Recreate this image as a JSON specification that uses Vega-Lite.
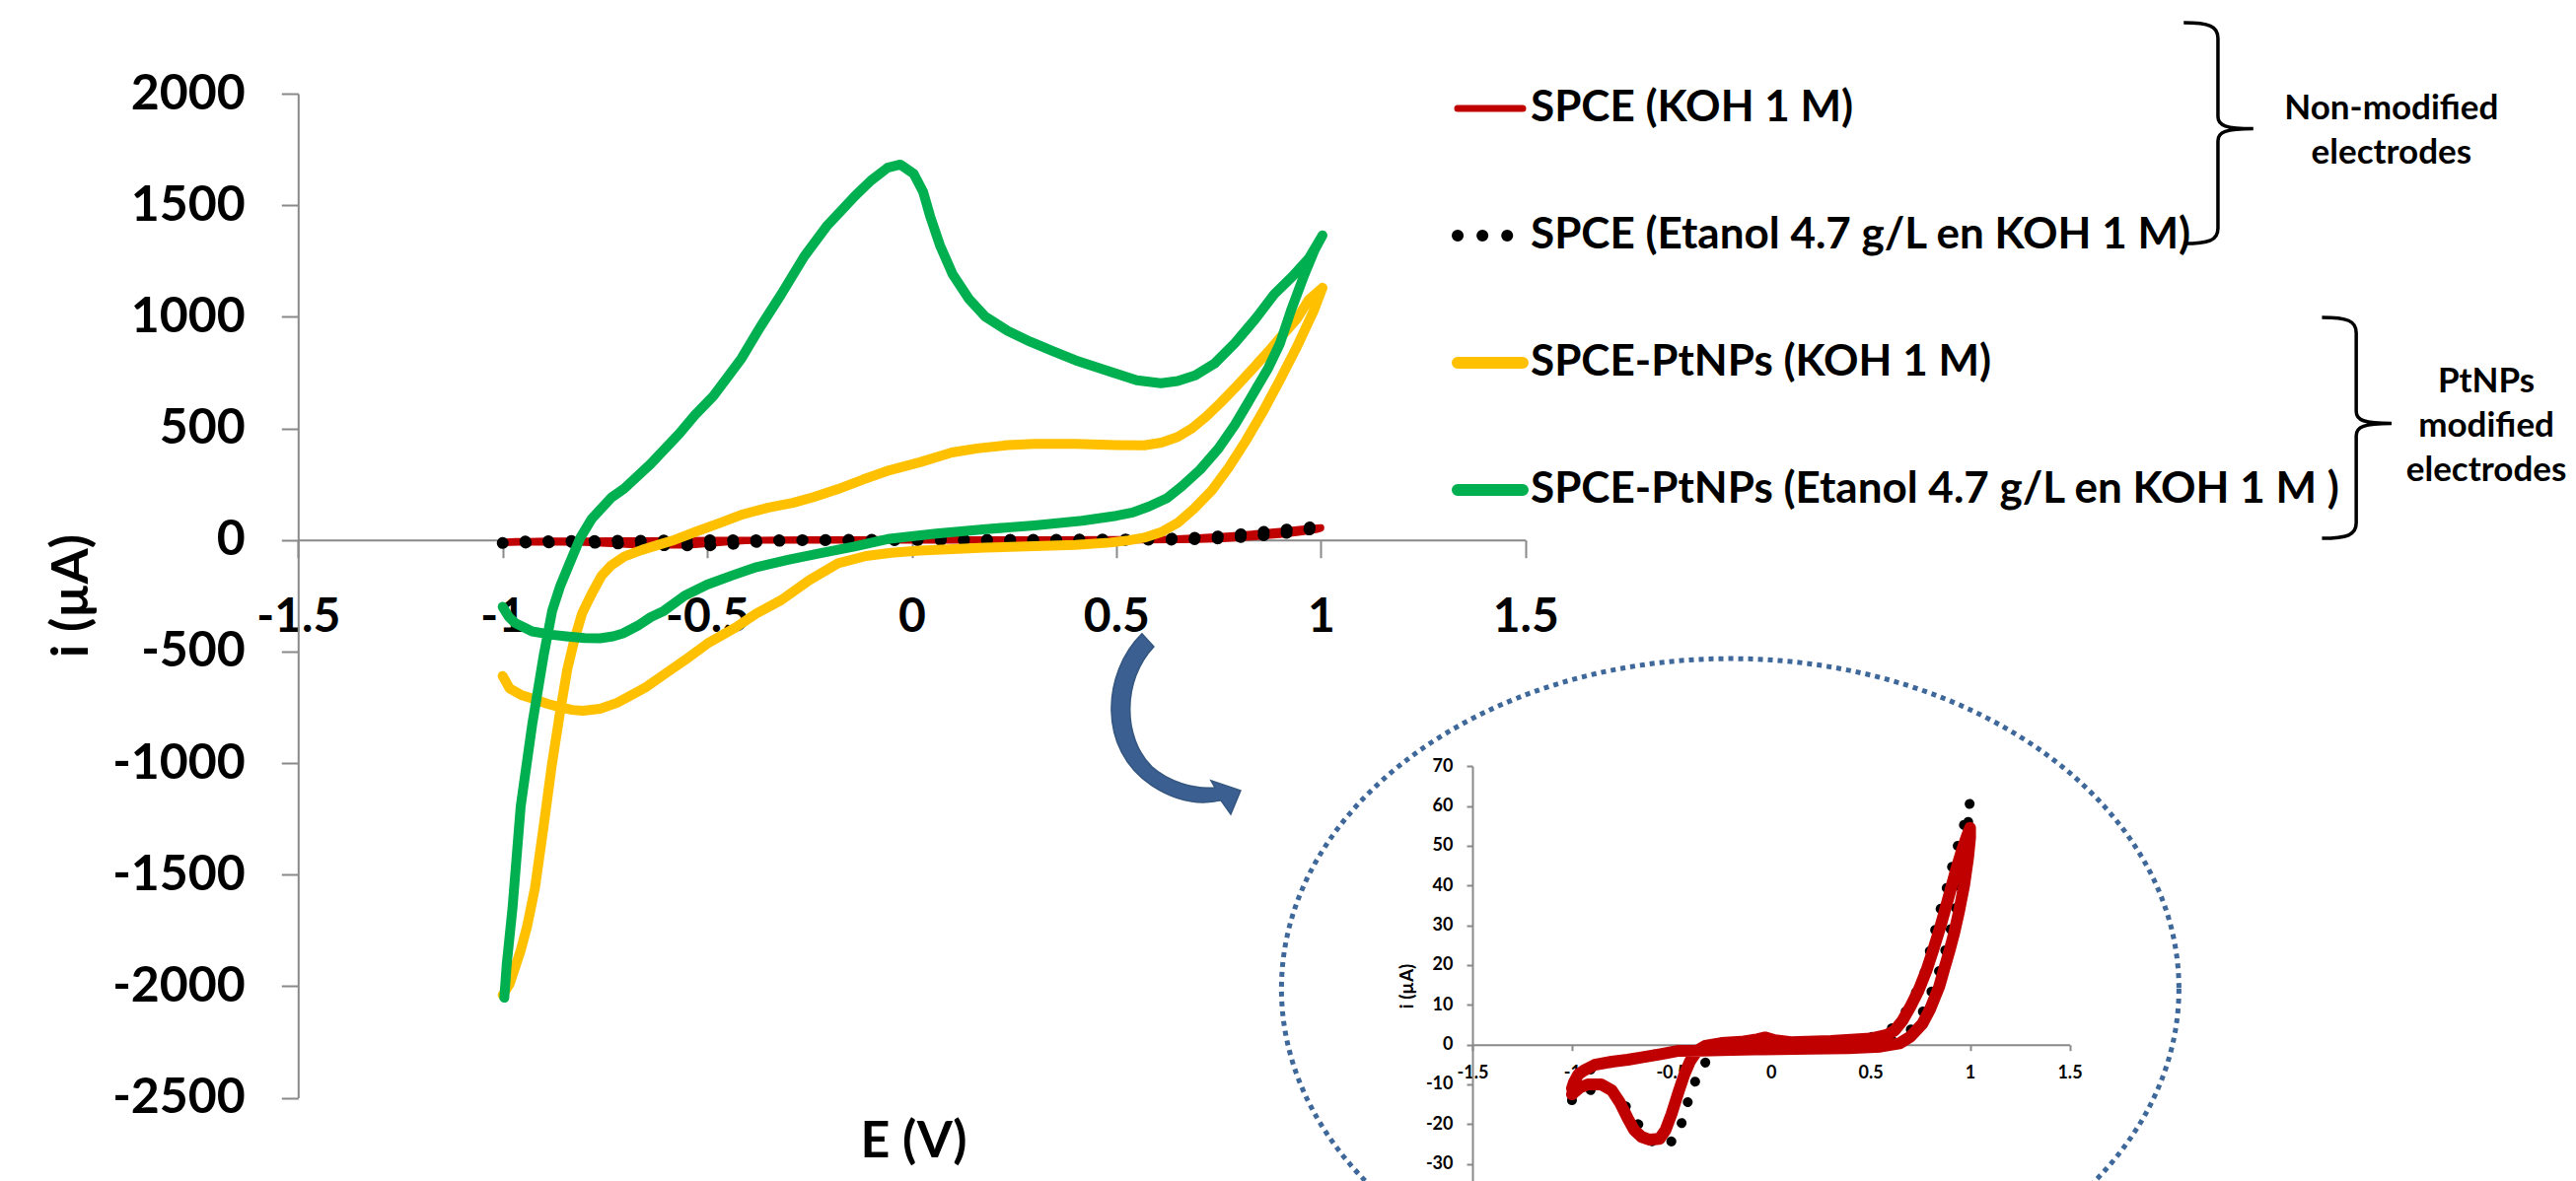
{
  "$schema": "https://vega.github.io/schema/vega-lite/v6.json",
  "width": 2612,
  "height": 1198,
  "autosize": {"type": "none"},
  "padding": 0,
  "background": "white",
  "config": {"view": {"stroke": null}, "font": "Lato"},
  "datasets": {
    "red": [
      {"i":1,"E":-1.0,"I":-12.5},{"i":2,"E":-0.96,"I":-10.8},{"i":3,"E":-0.92,"I":-10.0},{"i":4,"E":-0.853,"I":-10.0},
      {"i":5,"E":-0.8,"I":-11.5},{"i":6,"E":-0.76,"I":-14.5},{"i":7,"E":-0.72,"I":-18.5},{"i":8,"E":-0.687,"I":-21.5},
      {"i":9,"E":-0.65,"I":-23.2},{"i":10,"E":-0.61,"I":-23.9},{"i":11,"E":-0.56,"I":-23.7},{"i":12,"E":-0.53,"I":-21.5},
      {"i":13,"E":-0.5,"I":-17.5},{"i":14,"E":-0.464,"I":-11.8},{"i":15,"E":-0.435,"I":-7.5},{"i":16,"E":-0.407,"I":-4.2},
      {"i":17,"E":-0.37,"I":-1.5},{"i":18,"E":-0.33,"I":-0.3},{"i":19,"E":-0.25,"I":0.4},{"i":20,"E":-0.15,"I":0.7},
      {"i":21,"E":-0.07,"I":1.3},{"i":22,"E":-0.03,"I":1.8},{"i":23,"E":0.02,"I":1.1},{"i":24,"E":0.1,"I":0.6},
      {"i":25,"E":0.3,"I":0.9},{"i":26,"E":0.5,"I":1.5},{"i":27,"E":0.58,"I":2.4},{"i":28,"E":0.62,"I":3.5},
      {"i":29,"E":0.66,"I":6},{"i":30,"E":0.7,"I":9.5},{"i":31,"E":0.74,"I":13.5},{"i":32,"E":0.78,"I":18.5},
      {"i":33,"E":0.816,"I":24},{"i":34,"E":0.85,"I":29.5},{"i":35,"E":0.873,"I":33.6},{"i":36,"E":0.9,"I":38.5},
      {"i":37,"E":0.93,"I":44},{"i":38,"E":0.96,"I":49},{"i":39,"E":0.985,"I":52.5},{"i":40,"E":1.0,"I":54.5},
      {"i":41,"E":1.0,"I":52},{"i":42,"E":0.99,"I":47},{"i":43,"E":0.97,"I":40},{"i":44,"E":0.945,"I":33.6},
      {"i":45,"E":0.92,"I":28},{"i":46,"E":0.9,"I":24.2},{"i":47,"E":0.87,"I":19},{"i":48,"E":0.845,"I":14.6},
      {"i":49,"E":0.8,"I":9},{"i":50,"E":0.76,"I":5.2},{"i":51,"E":0.7,"I":2},{"i":52,"E":0.646,"I":0.3},
      {"i":53,"E":0.55,"I":-0.5},{"i":54,"E":0.39,"I":-0.9},{"i":55,"E":0.2,"I":-1.0},{"i":56,"E":-0.04,"I":-1.2},
      {"i":57,"E":-0.2,"I":-1.3},{"i":58,"E":-0.35,"I":-1.5},{"i":59,"E":-0.47,"I":-1.6},{"i":60,"E":-0.555,"I":-2.4},
      {"i":61,"E":-0.65,"I":-3.2},{"i":62,"E":-0.72,"I":-3.8},{"i":63,"E":-0.8,"I":-4.3},{"i":64,"E":-0.886,"I":-5.1},
      {"i":65,"E":-0.94,"I":-6.5},{"i":66,"E":-0.968,"I":-7.5},{"i":67,"E":-0.99,"I":-9.5},{"i":68,"E":-1.0,"I":-11}
    ],
    "black": [
      {"i":1,"E":-1.0,"I":-14},{"i":2,"E":-0.97,"I":-12.5},{"i":3,"E":-0.928,"I":-11.7},{"i":4,"E":-0.87,"I":-11},
      {"i":5,"E":-0.82,"I":-10.8},{"i":6,"E":-0.78,"I":-12.5},{"i":7,"E":-0.737,"I":-15},{"i":8,"E":-0.7,"I":-17.5},
      {"i":9,"E":-0.674,"I":-19.5},{"i":10,"E":-0.63,"I":-22.5},{"i":11,"E":-0.58,"I":-25.3},{"i":12,"E":-0.53,"I":-25},
      {"i":13,"E":-0.489,"I":-24.1},{"i":14,"E":-0.46,"I":-21.5},{"i":15,"E":-0.441,"I":-18.4},{"i":16,"E":-0.425,"I":-15.5},
      {"i":17,"E":-0.407,"I":-12.7},{"i":18,"E":-0.385,"I":-9.8},{"i":19,"E":-0.364,"I":-7},{"i":20,"E":-0.33,"I":-4.5},
      {"i":21,"E":-0.301,"I":-2.3},{"i":22,"E":-0.25,"I":-0.6},{"i":23,"E":-0.15,"I":0.3},{"i":24,"E":-0.03,"I":1.0},
      {"i":25,"E":0.1,"I":0.6},{"i":26,"E":0.3,"I":0.9},{"i":27,"E":0.5,"I":1.8},{"i":28,"E":0.603,"I":3.9},
      {"i":29,"E":0.65,"I":6.5},{"i":30,"E":0.7,"I":10},{"i":31,"E":0.74,"I":14.5},{"i":32,"E":0.774,"I":18.5},
      {"i":33,"E":0.8,"I":24},{"i":34,"E":0.83,"I":29.9},{"i":35,"E":0.859,"I":35.5},{"i":36,"E":0.893,"I":41.1},
      {"i":37,"E":0.919,"I":46.8},{"i":38,"E":0.953,"I":52.5},{"i":39,"E":0.987,"I":58.2},{"i":40,"E":1.0,"I":61},
      {"i":41,"E":0.98,"I":50},{"i":42,"E":0.96,"I":42},{"i":43,"E":0.94,"I":36.5},{"i":44,"E":0.917,"I":32},
      {"i":45,"E":0.888,"I":26},{"i":46,"E":0.855,"I":20},{"i":47,"E":0.816,"I":14.6},{"i":48,"E":0.78,"I":10},
      {"i":49,"E":0.74,"I":6},{"i":50,"E":0.68,"I":2.5},{"i":51,"E":0.62,"I":0.8},{"i":52,"E":0.5,"I":-0.3},
      {"i":53,"E":0.3,"I":-0.8},{"i":54,"E":0.0,"I":-1.2},{"i":55,"E":-0.3,"I":-1.5},{"i":56,"E":-0.5,"I":-1.8},
      {"i":57,"E":-0.6,"I":-2.6},{"i":58,"E":-0.72,"I":-3.9},{"i":59,"E":-0.85,"I":-5},{"i":60,"E":-0.93,"I":-6.8},
      {"i":61,"E":-0.97,"I":-8.5},{"i":62,"E":-1.0,"I":-12}
    ],
    "yellow": [
      {"i":1,"E":-1.0,"I":-610},{"i":2,"E":-0.983,"I":-666},{"i":3,"E":-0.955,"I":-695},{"i":4,"E":-0.928,"I":-711},
      {"i":5,"E":-0.89,"I":-735},{"i":6,"E":-0.86,"I":-750},{"i":7,"E":-0.83,"I":-762},{"i":8,"E":-0.804,"I":-766},
      {"i":9,"E":-0.762,"I":-757},{"i":10,"E":-0.72,"I":-730},{"i":11,"E":-0.692,"I":-702},{"i":12,"E":-0.65,"I":-660},
      {"i":13,"E":-0.61,"I":-609},{"i":14,"E":-0.554,"I":-538},{"i":15,"E":-0.499,"I":-464},{"i":16,"E":-0.43,"I":-392},
      {"i":17,"E":-0.38,"I":-330},{"i":18,"E":-0.319,"I":-270},{"i":19,"E":-0.25,"I":-180},{"i":20,"E":-0.18,"I":-105},
      {"i":21,"E":-0.112,"I":-72},{"i":22,"E":-0.05,"I":-58},{"i":23,"E":0.02,"I":-48},{"i":24,"E":0.18,"I":-35},
      {"i":25,"E":0.4,"I":-22},{"i":26,"E":0.485,"I":-12},{"i":27,"E":0.53,"I":-2},{"i":28,"E":0.568,"I":10},
      {"i":29,"E":0.61,"I":35},{"i":30,"E":0.65,"I":76},{"i":31,"E":0.69,"I":140},{"i":32,"E":0.734,"I":223},
      {"i":33,"E":0.775,"I":325},{"i":34,"E":0.816,"I":442},{"i":35,"E":0.86,"I":580},{"i":36,"E":0.9,"I":717},
      {"i":37,"E":0.94,"I":860},{"i":38,"E":0.983,"I":1028},{"i":39,"E":1.004,"I":1130},{"i":40,"E":0.97,"I":1075},
      {"i":41,"E":0.942,"I":992},{"i":42,"E":0.9,"I":905},{"i":43,"E":0.872,"I":845},{"i":44,"E":0.83,"I":760},
      {"i":45,"E":0.79,"I":681},{"i":46,"E":0.755,"I":615},{"i":47,"E":0.72,"I":553},{"i":48,"E":0.685,"I":500},
      {"i":49,"E":0.65,"I":461},{"i":50,"E":0.61,"I":436},{"i":51,"E":0.568,"I":424},{"i":52,"E":0.5,"I":425},
      {"i":53,"E":0.4,"I":430},{"i":54,"E":0.3,"I":430},{"i":55,"E":0.235,"I":425},{"i":56,"E":0.16,"I":410},
      {"i":57,"E":0.098,"I":392},{"i":58,"E":0.02,"I":348},{"i":59,"E":-0.055,"I":312},{"i":60,"E":-0.12,"I":270},
      {"i":61,"E":-0.18,"I":228},{"i":62,"E":-0.24,"I":192},{"i":63,"E":-0.291,"I":166},{"i":64,"E":-0.35,"I":145},
      {"i":65,"E":-0.416,"I":113},{"i":66,"E":-0.47,"I":75},{"i":67,"E":-0.527,"I":37},{"i":68,"E":-0.58,"I":0},
      {"i":69,"E":-0.621,"I":-23},{"i":70,"E":-0.66,"I":-45},{"i":71,"E":-0.703,"I":-75},{"i":72,"E":-0.735,"I":-115},
      {"i":73,"E":-0.758,"I":-160},{"i":74,"E":-0.782,"I":-240},{"i":75,"E":-0.806,"I":-330},{"i":76,"E":-0.825,"I":-450},
      {"i":77,"E":-0.842,"I":-580},{"i":78,"E":-0.86,"I":-775},{"i":79,"E":-0.88,"I":-1011},{"i":80,"E":-0.9,"I":-1285},
      {"i":81,"E":-0.921,"I":-1559},{"i":82,"E":-0.94,"I":-1730},{"i":83,"E":-0.956,"I":-1840},{"i":84,"E":-0.983,"I":-1990},
      {"i":85,"E":-1.0,"I":-2040}
    ],
    "green": [
      {"i":1,"E":-1.0,"I":-300},{"i":2,"E":-0.985,"I":-345},{"i":3,"E":-0.97,"I":-372},{"i":4,"E":-0.945,"I":-395},
      {"i":5,"E":-0.928,"I":-410},{"i":6,"E":-0.88,"I":-425},{"i":7,"E":-0.845,"I":-432},{"i":8,"E":-0.8,"I":-440},
      {"i":9,"E":-0.762,"I":-441},{"i":10,"E":-0.73,"I":-432},{"i":11,"E":-0.706,"I":-419},{"i":12,"E":-0.67,"I":-385},
      {"i":13,"E":-0.638,"I":-346},{"i":14,"E":-0.606,"I":-318},{"i":15,"E":-0.555,"I":-250},{"i":16,"E":-0.5,"I":-200},
      {"i":17,"E":-0.44,"I":-160},{"i":18,"E":-0.38,"I":-122},{"i":19,"E":-0.3,"I":-88},{"i":20,"E":-0.22,"I":-58},
      {"i":21,"E":-0.14,"I":-30},{"i":22,"E":-0.059,"I":4},{"i":23,"E":0.06,"I":28},{"i":24,"E":0.182,"I":48},
      {"i":25,"E":0.3,"I":65},{"i":26,"E":0.416,"I":86},{"i":27,"E":0.5,"I":108},{"i":28,"E":0.54,"I":123},
      {"i":29,"E":0.58,"I":150},{"i":30,"E":0.623,"I":186},{"i":31,"E":0.66,"I":240},{"i":32,"E":0.705,"I":315},
      {"i":33,"E":0.75,"I":410},{"i":34,"E":0.79,"I":516},{"i":35,"E":0.83,"I":640},{"i":36,"E":0.872,"I":772},
      {"i":37,"E":0.9,"I":880},{"i":38,"E":0.927,"I":1028},{"i":39,"E":0.96,"I":1190},{"i":40,"E":0.985,"I":1300},
      {"i":41,"E":1.004,"I":1365},{"i":42,"E":0.97,"I":1260},{"i":43,"E":0.93,"I":1180},{"i":44,"E":0.886,"I":1101},
      {"i":45,"E":0.84,"I":990},{"i":46,"E":0.79,"I":882},{"i":47,"E":0.74,"I":790},{"i":48,"E":0.693,"I":737},
      {"i":49,"E":0.65,"I":712},{"i":50,"E":0.609,"I":702},{"i":51,"E":0.55,"I":715},{"i":52,"E":0.47,"I":763},
      {"i":53,"E":0.4,"I":805},{"i":54,"E":0.346,"I":845},{"i":55,"E":0.29,"I":888},{"i":56,"E":0.235,"I":936},
      {"i":57,"E":0.18,"I":1000},{"i":58,"E":0.139,"I":1082},{"i":59,"E":0.1,"I":1190},{"i":60,"E":0.069,"I":1320},
      {"i":61,"E":0.045,"I":1450},{"i":62,"E":0.028,"I":1559},{"i":63,"E":0.005,"I":1640},{"i":64,"E":-0.028,"I":1682},
      {"i":65,"E":-0.059,"I":1668},{"i":66,"E":-0.1,"I":1610},{"i":67,"E":-0.139,"I":1541},{"i":68,"E":-0.17,"I":1480},
      {"i":69,"E":-0.208,"I":1406},{"i":70,"E":-0.263,"I":1270},{"i":71,"E":-0.319,"I":1101},{"i":72,"E":-0.37,"I":955},
      {"i":73,"E":-0.416,"I":814},{"i":74,"E":-0.485,"I":645},{"i":75,"E":-0.53,"I":560},{"i":76,"E":-0.568,"I":477},
      {"i":77,"E":-0.638,"I":341},{"i":78,"E":-0.703,"I":230},{"i":79,"E":-0.734,"I":190},{"i":80,"E":-0.782,"I":95},
      {"i":81,"E":-0.81,"I":10},{"i":82,"E":-0.838,"I":-112},{"i":83,"E":-0.86,"I":-210},{"i":84,"E":-0.879,"I":-318},
      {"i":85,"E":-0.9,"I":-520},{"i":86,"E":-0.928,"I":-830},{"i":87,"E":-0.956,"I":-1195},{"i":88,"E":-0.976,"I":-1651},
      {"i":89,"E":-0.99,"I":-1900},{"i":90,"E":-0.996,"I":-2052}
    ],
    "braces": [
      {"group": "Non-modified electrodes", "E": 3.193, "I": 1823},
      {"group": "PtNPs modified electrodes", "E": 3.531, "I": 502}
    ],
    "groupLabels": [
      {"lines": ["Non-modified", "electrodes"], "E": 3.617, "I": 1932},
      {"lines": ["PtNPs", "modified", "electrodes"], "E": 3.849, "I": 710}
    ]
  },
  "layer": [
    {
      "encoding": {
        "x": {"field": "E", "type": "quantitative",
          "scale": {"domain": [-1.5, 1.5], "range": [302.3, 1546.7], "nice": false, "zero": false},
          "axis": {"orient": "bottom", "offset": -650.3, "values": [-1.5, -1, -0.5, 0, 0.5, 1, 1.5],
            "labelExpr": "'' + datum.value", "grid": false,
            "domainColor": "#898989", "domainWidth": 2, "tickColor": "#898989", "tickWidth": 2, "tickSize": 18,
            "labelFontSize": 48, "labelFontWeight": "bold", "labelColor": "#000000", "labelPadding": 37,
            "labelFlush": false, "labelOverlap": false,
            "title": "E (V)", "titleFontSize": 52, "titleFontWeight": "bold", "titleColor": "#000000",
            "titleX": 926, "titleY": 610, "titleBaseline": "middle", "titleAlign": "center", "titleAngle": 0}},
        "y": {"field": "I", "type": "quantitative",
          "scale": {"domain": [-2500, 2000], "range": [1113.5, 95], "nice": false, "zero": false},
          "axis": {"orient": "left", "offset": -302.3, "values": [-2500, -2000, -1500, -1000, -500, 0, 500, 1000, 1500, 2000],
            "labelExpr": "'' + datum.value", "grid": false,
            "domainColor": "#898989", "domainWidth": 2, "tickColor": "#898989", "tickWidth": 2, "tickSize": 17,
            "labelFontSize": 50, "labelFontWeight": "bold", "labelColor": "#000000", "labelPadding": 37,
            "labelFlush": false, "labelOverlap": false,
            "title": "i (µA)", "titleFontSize": 52, "titleFontWeight": "bold", "titleColor": "#000000",
            "titleX": -229.3, "titleY": 604, "titleBaseline": "middle", "titleAlign": "center", "titleAngle": -90}}
      },
      "layer": [
        {"data": {"name": "red"}, "mark": {"type": "line", "color": "#C00000", "strokeWidth": 7, "strokeJoin": "round"},
          "encoding": {"order": {"field": "i", "type": "quantitative"}}},
        {"data": {"name": "black"}, "mark": {"type": "line", "color": "#000000", "strokeWidth": 12, "strokeDash": [0.1, 23.3], "strokeCap": "round", "strokeJoin": "round"},
          "encoding": {"order": {"field": "i", "type": "quantitative"}}},
        {"data": {"name": "yellow"}, "mark": {"type": "line", "color": "#FFC000", "strokeWidth": 10, "strokeCap": "round", "strokeJoin": "round"},
          "encoding": {"order": {"field": "i", "type": "quantitative"}}},
        {"data": {"name": "green"}, "mark": {"type": "line", "color": "#00B050", "strokeWidth": 10, "strokeCap": "round", "strokeJoin": "round"},
          "encoding": {"order": {"field": "i", "type": "quantitative"}}},
        {"data": {"values": [{"note": "zoom arrow", "E": 0.652, "I": -783}]},
          "mark": {"type": "point", "shape": "M -0.37 -0.82 C -0.77 -0.43 -0.83 0.35 -0.27 0.72 C -0.07 0.85 0.17 0.93 0.43 0.87 L 0.53 1.01 L 0.63 0.77 L 0.33 0.67 L 0.37 0.74 C 0.15 0.76 -0.1 0.68 -0.27 0.53 C -0.57 0.23 -0.57 -0.35 -0.25 -0.69 Z",
            "size": 40000, "filled": true, "fill": "#3B5F91", "stroke": "#34567F", "strokeWidth": 1.5, "opacity": 1}},
        {"data": {"name": "braces"},
          "mark": {"type": "point", "shape": "M -0.31 -1 C -0.08 -1 0 -0.97 0 -0.86 L 0 -0.15 C 0 -0.07 0.07 -0.04 0.32 -0.04 C 0.07 -0.04 0 -0.01 0 0.07 L 0 0.86 C 0 0.97 -0.08 1 -0.31 1",
            "size": 50176, "filled": false, "stroke": "#000000", "strokeWidth": 3.5, "opacity": 1}},
        {"data": {"name": "groupLabels"},
          "mark": {"type": "text", "fontSize": 35, "fontWeight": "bold", "color": "#000000", "align": "center", "baseline": "middle", "lineHeight": 45},
          "encoding": {"text": {"field": "lines"}}}
      ]
    },
    {
      "encoding": {
        "x": {"field": "E", "type": "quantitative",
          "scale": {"domain": [-1.5, 1.5], "range": [1493, 2098.5], "nice": false, "zero": false},
          "axis": {"orient": "bottom", "offset": -138.3, "values": [-1.5, -1, -0.5, 0, 0.5, 1, 1.5],
            "labelExpr": "'' + datum.value", "grid": false,
            "domainColor": "#898989", "domainWidth": 2, "tickColor": "#898989", "tickWidth": 2, "tickSize": 6,
            "labelFontSize": 18, "labelFontWeight": "bold", "labelColor": "#000000", "labelPadding": 14,
            "labelFlush": false, "labelOverlap": false, "title": null}},
        "y": {"field": "I", "type": "quantitative",
          "scale": {"domain": [-40, 70], "range": [1221, 777.3], "nice": false, "zero": false},
          "axis": {"orient": "left", "offset": -1493, "values": [-30, -20, -10, 0, 10, 20, 30, 40, 50, 60, 70],
            "labelExpr": "'' + datum.value", "grid": false,
            "domainColor": "#898989", "domainWidth": 2, "tickColor": "#898989", "tickWidth": 2, "tickSize": 6,
            "labelFontSize": 18, "labelFontWeight": "bold", "labelColor": "#000000", "labelPadding": 14,
            "labelFlush": false, "labelOverlap": false,
            "title": "i (µA)", "titleFontSize": 19, "titleFontWeight": "bold", "titleColor": "#000000",
            "titleX": -66.3, "titleY": 1000, "titleBaseline": "middle", "titleAlign": "center", "titleAngle": -90}}
      },
      "layer": [
        {"data": {"values": [{"note": "zoom ellipse", "E": -0.205, "I": 14.05}]},
          "mark": {"type": "point", "shape": "M 1 0 C 1 0.4065 0.5523 0.736 0 0.736 C -0.5523 0.736 -1 0.4065 -1 0 C -1 -0.4065 -0.5523 -0.736 0 -0.736 C 0.5523 -0.736 1 -0.4065 1 0 Z",
            "size": 828100, "filled": false, "stroke": "#3E679A", "strokeWidth": 5, "strokeDash": [5, 5], "opacity": 1}},
        {"data": {"name": "black"}, "mark": {"type": "line", "color": "#000000", "strokeWidth": 10, "strokeDash": [0.1, 22], "strokeCap": "round", "strokeJoin": "round"},
          "encoding": {"order": {"field": "i", "type": "quantitative"}}},
        {"data": {"name": "red"}, "mark": {"type": "line", "color": "#C00000", "strokeWidth": 12, "strokeCap": "round", "strokeJoin": "round"},
          "encoding": {"order": {"field": "i", "type": "quantitative"}}}
      ]
    },
    {
      "data": {"values": [
        {"s": "SPCE (KOH 1 M)"},
        {"s": "SPCE (Etanol 4.7 g/L en KOH 1 M)"},
        {"s": "SPCE-PtNPs (KOH 1 M)"},
        {"s": "SPCE-PtNPs (Etanol 4.7 g/L en KOH 1 M )"}
      ]},
      "encoding": {
        "y": {"field": "s", "type": "nominal", "sort": null,
          "scale": {"type": "point", "domain": ["SPCE (KOH 1 M)", "SPCE (Etanol 4.7 g/L en KOH 1 M)", "SPCE-PtNPs (KOH 1 M)", "SPCE-PtNPs (Etanol 4.7 g/L en KOH 1 M )"], "range": [110, 497], "padding": 0},
          "axis": null}
      },
      "layer": [
        {"mark": {"type": "rule", "strokeCap": "round"},
          "encoding": {
            "x": {"datum": 0, "type": "quantitative", "scale": {"domain": [0, 1], "range": [1478, 1544], "nice": false, "zero": false}, "axis": null},
            "x2": {"datum": 1},
            "color": {"field": "s", "type": "nominal", "legend": null,
              "scale": {"domain": ["SPCE (KOH 1 M)", "SPCE (Etanol 4.7 g/L en KOH 1 M)", "SPCE-PtNPs (KOH 1 M)", "SPCE-PtNPs (Etanol 4.7 g/L en KOH 1 M )"], "range": ["#C00000", "#000000", "#FFC000", "#00B050"]}},
            "strokeWidth": {"condition": {"test": "datum.s === 'SPCE (KOH 1 M)'", "value": 7}, "value": 12},
            "strokeDash": {"condition": {"test": "datum.s === 'SPCE (Etanol 4.7 g/L en KOH 1 M)'", "value": [0.1, 25]}, "value": [1, 0]}
          }},
        {"mark": {"type": "text", "align": "left", "baseline": "middle", "fontSize": 44, "fontWeight": "bold", "color": "#000000", "dx": 8},
          "encoding": {
            "x": {"datum": 1, "type": "quantitative", "axis": null},
            "text": {"field": "s", "type": "nominal"}
          }}
      ]
    }
  ],
  "resolve": {"scale": {"x": "independent", "y": "independent", "color": "independent"}, "axis": {"x": "independent", "y": "independent"}}
}
